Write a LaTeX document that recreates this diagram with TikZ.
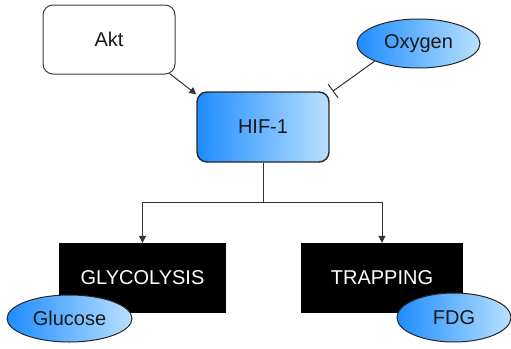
\documentclass[tikz,border=0pt]{standalone}
\usepackage{fontspec}
\setmainfont{Liberation Sans}
\usetikzlibrary{arrows.meta,shapes.geometric}
\definecolor{bdark}{RGB}{30,140,255}
\definecolor{blight}{RGB}{185,225,255}
\definecolor{lgrey}{RGB}{60,60,60}
\tikzset{
  lbl/.style={font=\fontsize{20}{24}\selectfont, text=black!90, inner sep=0pt},
  whitebox/.style={lbl, draw=lgrey, line width=1pt, rounded corners=10pt, fill=white,
    minimum width=132pt, minimum height=69pt},
  bluebox/.style={lbl, draw=black!85, line width=1.4pt, rounded corners=10pt,
    left color=bdark, right color=blight, minimum width=132pt, minimum height=70pt},
  blackbox/.style={lbl, fill=black, text=white, minimum height=70pt},
  blueoval/.style={lbl, ellipse, draw=black!85, line width=1pt,
    left color=bdark, right color=blight, inner sep=0pt},
  conn/.style={draw=black!80, line width=1pt},
  arr/.style={conn, -{Triangle[length=7pt,width=7pt]}},
  inhib/.style={conn, -{Bar[width=17pt,line width=1pt]}}
}
\begin{document}
\begin{tikzpicture}[x=1pt,y=-1pt]
\useasboundingbox (0,0) rectangle (511,348);
\node[whitebox] (akt) at (109,39.5) {Akt};
\node[bluebox] (hif) at (263,127) {HIF-1};
\node[blueoval, minimum width=123pt, minimum height=49pt] (oxy) at (418.5,43.5) {Oxygen};
\node[blackbox, minimum width=167pt] (gly) at (142.5,278) {GLYCOLYSIS};
\node[blackbox, minimum width=162pt] (trap) at (382,278) {TRAPPING};
\node[blueoval, minimum width=125pt, minimum height=47pt] (glu) at (69.5,318.5) {Glucose};
\node[blueoval, minimum width=114pt, minimum height=49pt] (fdg) at (454,317.5) {FDG};
\coordinate (br) at (263,202);
\draw[arr] ([shift={(-6pt,1pt)}]akt.south east) -- ([yshift=-3pt]hif.north west);
\draw[inhib] (oxy.south west) -- ([shift={(3pt,0pt)}]hif.north east);
\draw[conn] (hif.south) -- (br);
\draw[arr] (br) -| (gly.north);
\draw[arr] (br) -| (trap.north);
\end{tikzpicture}
\end{document}
